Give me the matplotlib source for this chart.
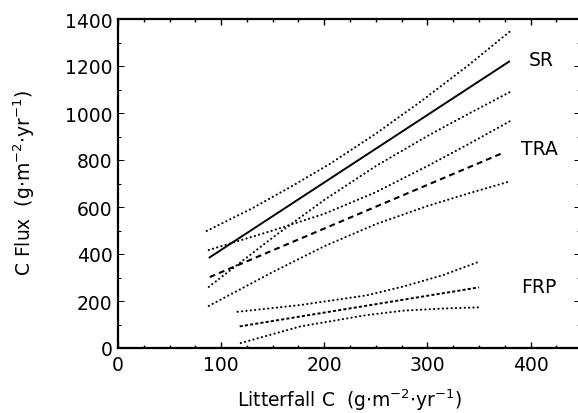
import matplotlib
matplotlib.use("Agg")
import matplotlib.pyplot as plt
from matplotlib.ticker import MultipleLocator

# ---- data ----
sr_fit_x = [88, 380]
sr_fit_y = [383, 1221]
sr_up_x = [86, 130, 170, 206, 250, 293, 340, 380]
sr_up_y = [498, 594, 692, 785, 912, 1047, 1204, 1347]
sr_lo_x = [88, 150, 200, 250, 300, 340, 380]
sr_lo_y = [260, 470, 630, 774, 902, 997, 1089]

tra_fit_x = [89, 371]
tra_fit_y = [302, 826]
tra_up_x = [88, 150, 200, 250, 300, 340, 380]
tra_up_y = [417, 500, 571, 663, 774, 868, 965]
tra_lo_x = [88, 150, 200, 250, 300, 340, 380]
tra_lo_y = [179, 323, 433, 527, 604, 658, 709]

frp_fit_x = [118, 350]
frp_fit_y = [92, 258]
frp_up_x = [116, 177, 241, 277, 315, 350]
frp_up_y = [154, 183, 224, 262, 310, 367]
frp_lo_x = [119, 177, 241, 277, 315, 350]
frp_lo_y = [21, 92, 140, 159, 168, 173]

labels = ["SR", "TRA", "FRP"]
label_x = [410, 409, 408]
label_y = [1226, 847, 260]

xticks = [0, 100, 200, 300, 400]
yticks = [0, 200, 400, 600, 800, 1000, 1200, 1400]

plt.rcParams['font.family'] = ['DejaVu Sans']
plt.rcParams['mathtext.fontset'] = 'dejavusans'

FS = 13.5
fig = plt.figure(figsize=(5.78, 4.14), dpi=100)
ax = fig.add_axes([118/578, 65/414, 462/578, 329/414])

dot = (0, (0.1, 2.0))
lw_dot = 1.5
kw_dot = dict(color='black', lw=lw_dot, linestyle=dot, dash_capstyle='round')
ax.plot(sr_fit_x, sr_fit_y, color='black', lw=1.4, solid_capstyle='butt')
ax.plot(sr_up_x, sr_up_y, **kw_dot)
ax.plot(sr_lo_x, sr_lo_y, **kw_dot)

ax.plot(tra_fit_x, tra_fit_y, color='black', lw=1.5, linestyle=(0, (2.8, 2.0)))
ax.plot(tra_up_x, tra_up_y, **kw_dot)
ax.plot(tra_lo_x, tra_lo_y, **kw_dot)

ax.plot(frp_fit_x, frp_fit_y, color='black', lw=1.4, linestyle=(0, (1.6, 1.1)))
ax.plot(frp_up_x, frp_up_y, **kw_dot)
ax.plot(frp_lo_x, frp_lo_y, **kw_dot)

for t, x, y in zip(labels, label_x, label_y):
    ax.text(x, y, t, ha='center', va='center', fontsize=FS, color='black')

ax.set_xlim(0, 448)
ax.set_ylim(0, 1400)
ax.set_xticks(xticks)
ax.set_yticks(yticks)
ax.set_xticklabels([str(v) for v in xticks])
ax.set_yticklabels([str(v) for v in yticks])
ax.xaxis.set_minor_locator(MultipleLocator(25))
ax.yaxis.set_minor_locator(MultipleLocator(100))
ax.tick_params(which='both', direction='in', top=True, right=True,
               labelsize=FS, width=1.0, colors='black')
ax.tick_params(which='major', length=4.5)
ax.tick_params(which='minor', length=2.5)
ax.tick_params(axis='y', which='both', right=True, width=0.7)
ax.tick_params(axis='y', pad=4)
ax.tick_params(axis='x', pad=5)
for s in ax.spines.values():
    s.set_linewidth(1.6)
ax.spines['right'].set_visible(False)

fig.text(350/578, 1 - 407/414, r"Litterfall C  (g$\cdot$m$^{-2}$$\cdot$yr$^{-1}$)",
         ha='center', va='baseline', fontsize=FS)
fig.text(24/578, 1 - 183/414, r"C Flux  (g$\cdot$m$^{-2}$$\cdot$yr$^{-1}$)",
         ha='center', va='center', rotation=90, fontsize=FS)

fig.savefig("out.png", dpi=100)
